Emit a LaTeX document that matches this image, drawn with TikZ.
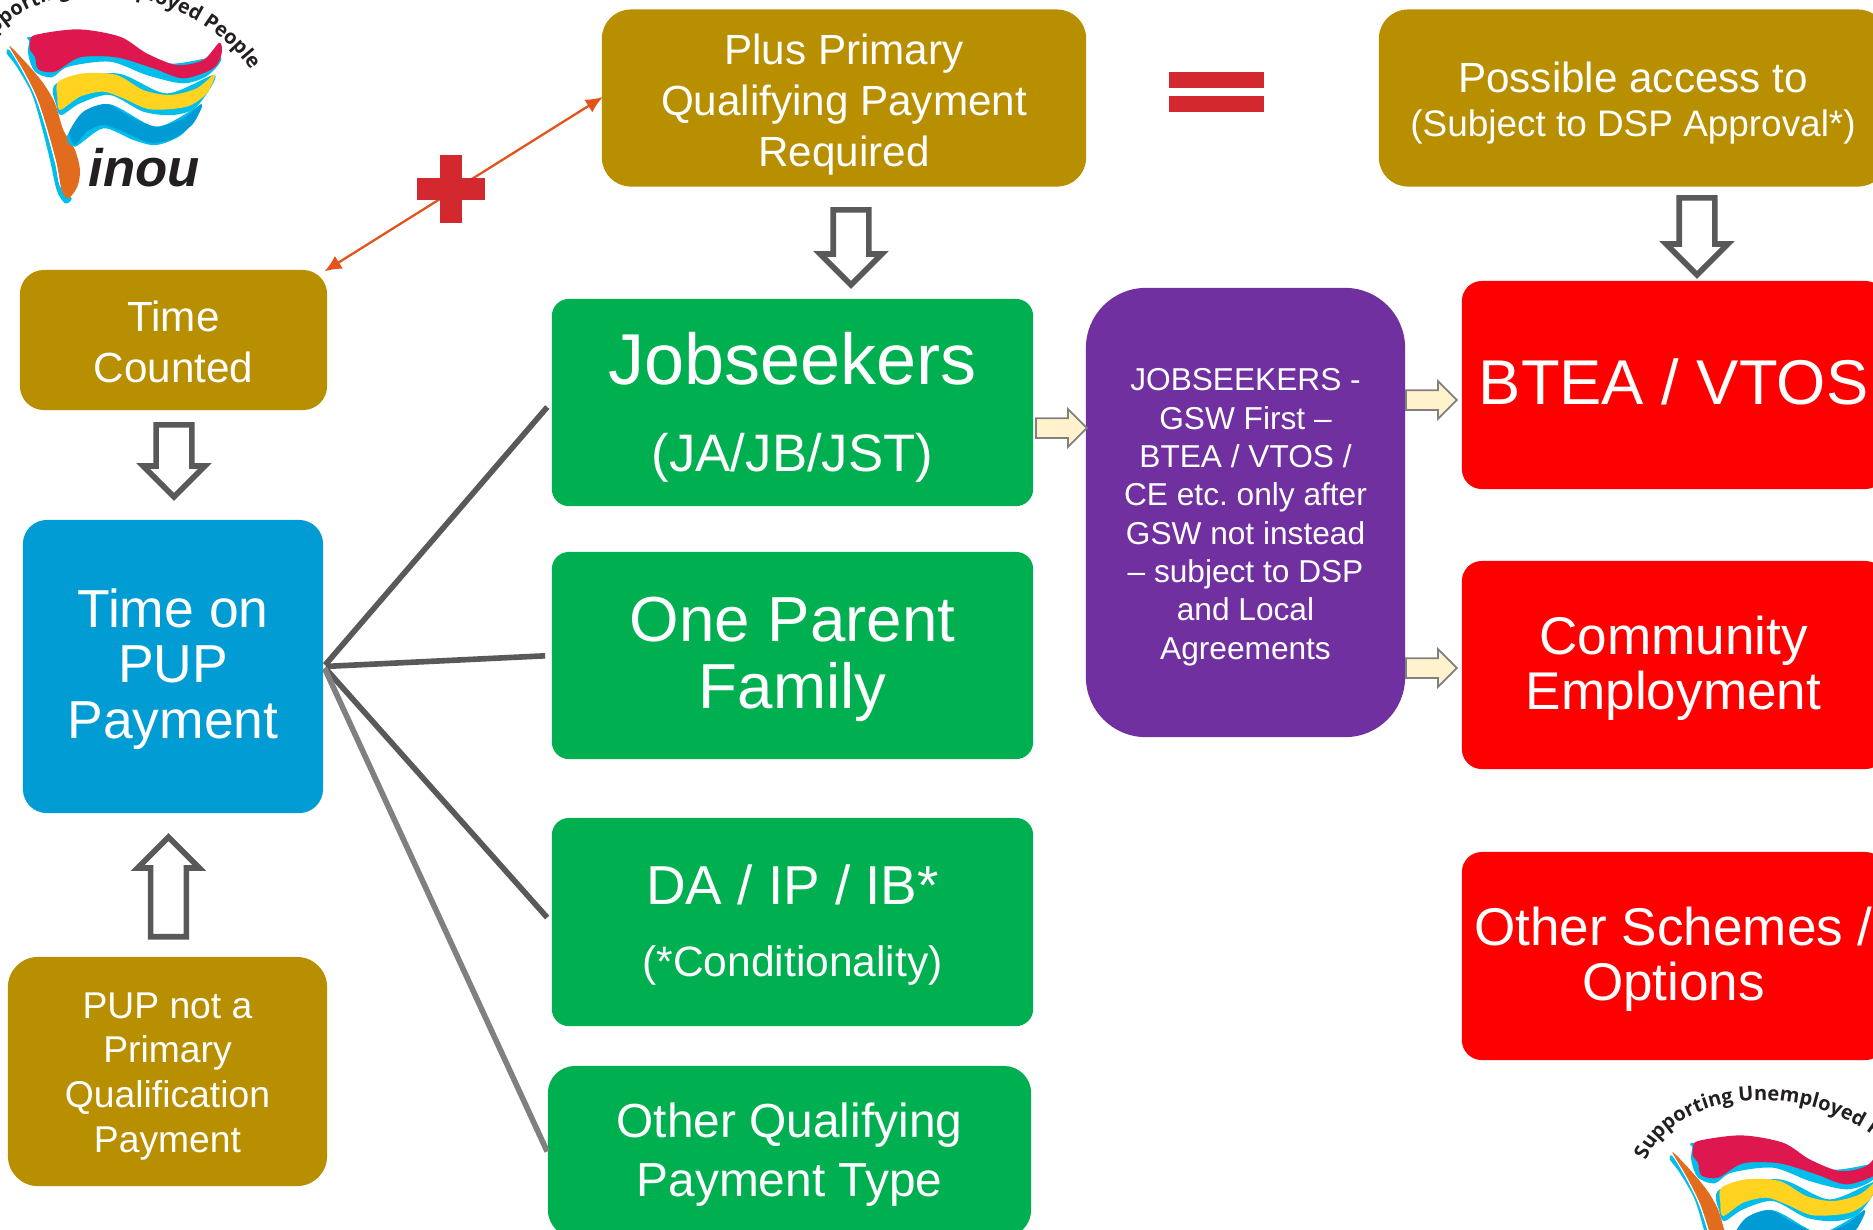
\documentclass[tikz,border=0pt]{standalone}
\usepackage{fontspec}
\setmainfont{Liberation Sans}
\newfontfamily\logofont{Open Sans}
\usetikzlibrary{arrows, arrows.meta, shapes.arrows, decorations.text}

\definecolor{goldbox}{HTML}{B88F00}
\definecolor{greenbox}{HTML}{00AF50}
\definecolor{bluebox}{HTML}{029CD4}
\definecolor{purplebox}{HTML}{7030A0}
\definecolor{creamarrow}{HTML}{FFF2CC}
\definecolor{signred}{HTML}{D2282E}
\definecolor{orangeline}{HTML}{E2541C}
\definecolor{flagred}{HTML}{DE174F}
\definecolor{flagyellow}{HTML}{FFD31F}
\definecolor{flagcyan}{HTML}{00BDEB}
\definecolor{flagblue}{HTML}{009BD5}
\definecolor{flagorange}{HTML}{E26C1E}
\definecolor{logotext}{HTML}{231F20}

\newcommand{\fsz}[2]{\fontsize{#1}{#2}\selectfont}
\newcommand{\pad}[1]{\rule{0pt}{#1}}
\frenchspacing

\tikzset{
  box/.style={text=white, align=center, inner sep=0pt},
  fanline/.style={line width=1.6pt, draw=black!65, shorten <=0.02cm, shorten >=0.06cm},
  hollowarrow/.style={single arrow, draw=black!65, fill=white, line width=1.6pt, inner sep=0.15cm,
    single arrow head extend=0.13cm, anchor=tail},
  smallarrow/.style={single arrow, draw=black!50, fill=creamarrow, line width=0.5pt, inner sep=0.09cm,
    single arrow head extend=0.09cm, minimum height=0.51cm, anchor=tail},
  inoulogo/.pic={
    \begin{scope}[scale=1/3]
    % pole
    \fill[flagcyan] plot[smooth cycle, tension=0.5] coordinates {(20,160) (50,200) (95,280) (125,380) (150,480) (170,570) (195,610) (215,595) (180,560) (165,490) (135,380) (105,290) (65,210) (28,150)};
    \fill[flagorange] plot[smooth cycle, tension=0.5] coordinates {(28,138) (80,190) (130,250) (165,310) (190,390) (225,450) (240,510) (232,560) (205,595) (185,570) (170,490) (140,380) (110,290) (70,210)};
    % red band
    \fill[flagcyan] plot[smooth cycle, tension=0.5] coordinates {(88,125) (85,165) (105,215) (155,232) (205,200) (330,185) (440,225) (550,250) (625,225) (660,170) (500,190) (350,120) (100,110)};
    \fill[flagred] plot[smooth cycle, tension=0.5] coordinates {(90,130) (105,105) (235,88) (360,110) (440,160) (530,195) (610,180) (658,128) (665,160) (640,205) (550,235) (460,205) (350,172) (240,172) (165,215) (115,208) (105,170) (90,150)};
    % yellow band
    \fill[flagcyan] plot[smooth cycle, tension=0.5] coordinates {(170,250) (170,320) (185,345) (240,310) (330,285) (430,335) (520,345) (590,320) (645,225) (500,280) (350,220)};
    \fill[flagyellow] plot[smooth cycle, tension=0.5] coordinates {(175,245) (250,220) (350,225) (430,270) (510,285) (590,265) (645,222) (620,280) (560,320) (450,328) (370,295) (310,275) (240,290) (180,330) (172,290)};
    % blue band
    \fill[flagcyan] plot[smooth cycle, tension=0.5] coordinates {(205,400) (225,440) (310,385) (400,420) (470,435) (550,400) (605,315) (470,380) (320,312)};
    \fill[flagblue] plot[smooth cycle, tension=0.5] coordinates {(210,390) (250,335) (320,312) (390,350) (470,380) (550,355) (605,312) (580,370) (520,415) (450,428) (370,395) (310,375) (260,395) (225,435) (210,410)};
    \path[decorate, decoration={text along path,
      text={|\fsz{5.7}{7}\logofont\bfseries\color{logotext}|Supporting Unemployed People}}]
      (-51,165) .. controls (45,-80) and (570,-100) .. (775,245);
    \node[text=logotext, font=\fsz{15}{18}\bfseries\itshape, inner sep=0pt, anchor=base] (word) at (432,560) {inou};
    \end{scope}
  }
}

\begin{document}
\begin{tikzpicture}[x=0.01cm,y=-0.01cm]
\useasboundingbox (0,0) rectangle (1873,1229);
\clip (0,0) rectangle (1873,1229);

\pic (logoa) at (0,0) {inoulogo};
\pic (logob) at (1663,1106) {inoulogo};

% top row
\node[box, fill=goldbox, rounded corners=0.29cm, minimum width=4.84cm, minimum height=1.77cm, font=\fsz{12}{14.5}] (primary) at (844,98) {\pad{12.2pt}Plus Primary\\Qualifying Payment\\Required};
\node[box, fill=goldbox, rounded corners=0.29cm, minimum width=5.08cm, minimum height=1.77cm, font=\fsz{12}{12.5}] (access) at (1633,98) {\pad{11.8pt}Possible access to\\{\fsz{10.5}{12.5}(Subject to DSP Approval*)}};

% left column
\node[box, fill=goldbox, rounded corners=0.24cm, minimum width=3.07cm, minimum height=1.40cm, font=\fsz{12}{14.5}] (counted) at (173.5,340) {\pad{10pt}Time\\Counted};
\node[box, fill=bluebox, rounded corners=0.24cm, minimum width=3.00cm, minimum height=2.93cm, font=\fsz{15.2}{15.8}] (pup) at (173,666.5) {\pad{12.3pt}Time on\\PUP\\Payment};
\node[box, fill=goldbox, rounded corners=0.3cm, minimum width=3.19cm, minimum height=2.29cm, font=\fsz{10.6}{12.7}] (notprimary) at (167.5,1071.5) {\pad{10pt}PUP not a\\Primary\\Qualification\\Payment};

% green payments
\node[box, fill=greenbox, rounded corners=0.17cm, minimum width=4.81cm, minimum height=2.07cm, font=\fsz{20.5}{24.6}] (jobs) at (792.5,402.5) {\pad{17.7pt}Jobseekers\\{\fsz{15}{24.6}(JA/JB/JST)}};
\node[box, fill=greenbox, rounded corners=0.17cm, minimum width=4.81cm, minimum height=2.07cm, font=\fsz{18.1}{19}] (parent) at (792.5,655.5) {\pad{15pt}One Parent\\Family};
\node[box, fill=greenbox, rounded corners=0.17cm, minimum width=4.81cm, minimum height=2.08cm, font=\fsz{15.6}{20.5}] (disab) at (792.5,922) {\pad{13.1pt}DA / IP / IB*\\{\fsz{12.1}{20.5}(*Conditionality)}};
\node[box, fill=greenbox, rounded corners=0.27cm, minimum width=4.83cm, minimum height=1.71cm, font=\fsz{13.6}{16.6}] (otherpay) at (789.5,1151.5) {\pad{11.6pt}Other Qualifying\\Payment Type};

% purple and red
\node[box, fill=purplebox, rounded corners=0.6cm, minimum width=3.19cm, minimum height=4.49cm, font=\fsz{9}{10.9}] (gsw) at (1245.5,512.5) {\pad{9pt}JOBSEEKERS -\\GSW First --\\BTEA / VTOS /\\CE etc. only after\\GSW not instead\\-- subject to DSP\\and Local\\Agreements};
\node[box, fill=red, rounded corners=0.2cm, minimum width=4.23cm, minimum height=2.08cm, font=\fsz{18}{20}] (btea) at (1673.5,385) {BTEA / VTOS\rule[-2pt]{0pt}{0pt}};
\node[box, fill=red, rounded corners=0.2cm, minimum width=4.23cm, minimum height=2.08cm, font=\fsz{15.1}{15.7}] (commun) at (1673.5,665) {\pad{12.7pt}Community\\Employment};
\node[box, fill=red, rounded corners=0.2cm, minimum width=4.23cm, minimum height=2.08cm, font=\fsz{15.1}{15.7}] (schemes) at (1673.5,956) {\pad{12.7pt}Other Schemes /\\Options};

% fan out of time on pup
\draw[fanline] (pup.east) -- (jobs.west);
\draw[fanline] (pup.east) -- (parent.west);
\draw[fanline] (pup.east) -- (disab.west);
\draw[fanline, draw=black!50, shorten >=0pt] (pup.east) -- (otherpay.west);

% plus and equals
\draw[orangeline, line width=0.65pt, shorten <=-0.04cm, shorten >=-0.02cm, {Latex[length=0.17cm,width=0.15cm]}-{Latex[length=0.17cm,width=0.15cm]}] (counted.north east) -- (primary.west);
\fill[signred] (417,178) rectangle (485,200);
\fill[signred] (440,155) rectangle (462,223);
\fill[signred] (1169,72) rectangle (1264,88);
\fill[signred] (1169,96) rectangle (1264,112);

% block arrows
\node[hollowarrow, rotate=-90, minimum height=0.75cm] (downa) at (851,207) {};
\node[hollowarrow, rotate=-90, minimum height=0.72cm] (downb) at (174,422) {};
\node[hollowarrow, rotate=90, minimum height=0.995cm] (upa) at (168.5,939.5) {};
\node[hollowarrow, rotate=-90, minimum height=0.77cm] (downc) at (1697,195) {};

\node[smallarrow] (fwda) at (1035,428) {};
\node[smallarrow] (fwdb) at (1405,400) {};
\node[smallarrow] (fwdc) at (1405,668) {};
\end{tikzpicture}
\end{document}
